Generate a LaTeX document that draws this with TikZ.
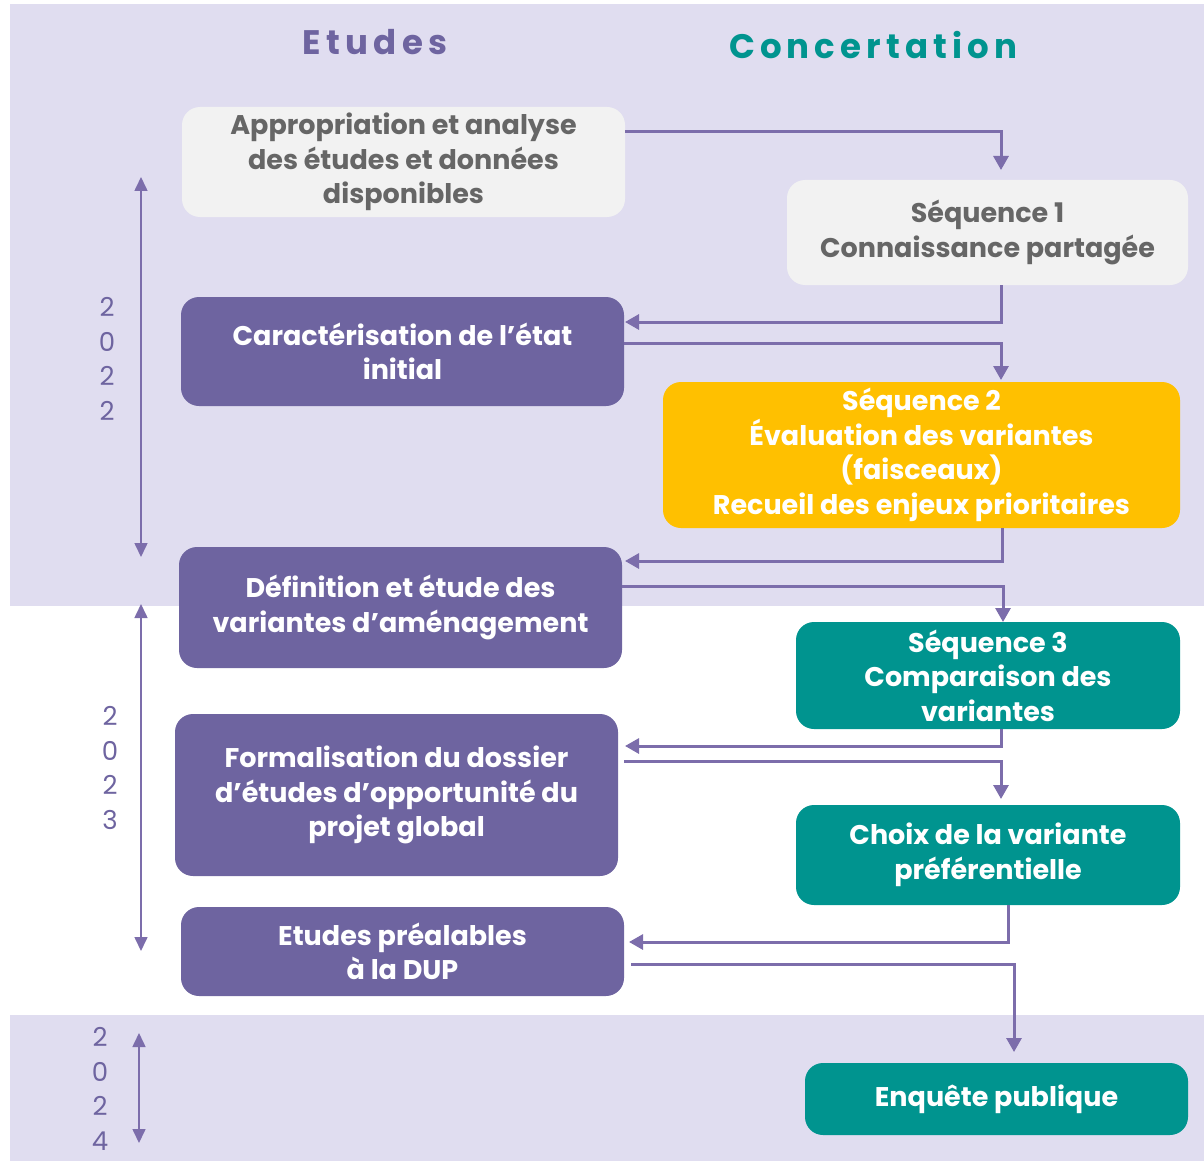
\documentclass[tikz,border=0pt]{standalone}
\usepackage{fontspec}
\setmainfont{Poppins}
\usepackage{tikz}
\usetikzlibrary{arrows.meta, calc}

\definecolor{bgLav}{HTML}{E0DDF0}
\definecolor{etuPurple}{HTML}{6E64A0}
\definecolor{arrPurple}{HTML}{7C6DAB}
\definecolor{boxGray}{HTML}{F2F2F2}
\definecolor{txtGray}{HTML}{666666}
\definecolor{seqYellow}{HTML}{FFC000}
\definecolor{conTeal}{HTML}{00948F}

\begin{document}
\begin{tikzpicture}[x=1pt, y=-1pt]

    % Frame
    \useasboundingbox (0,0) rectangle (1204,1161);

    % Boxes
    \tikzset{box/.style={rounded corners = 18pt, align = center, inner sep = 4pt,
        font = \fontsize{27}{34.5}\selectfont\bfseries}}
    \tikzset{grayB/.style={box, fill = boxGray, text = txtGray}}
    \tikzset{etuB/.style={box, fill = etuPurple, text = white}}
    \tikzset{seqB/.style={box, fill = seqYellow, text = white}}
    \tikzset{conB/.style={box, fill = conTeal, text = white}}

    % Connectors
    \tikzset{arr/.style={draw = arrPurple, line width = 3pt, -{Triangle[length=14pt, width=15pt]}}}
    \tikzset{yarr/.style={draw = arrPurple, line width = 1.6pt, {Triangle[length=14pt, width=13pt]}-{Triangle[length=14pt, width=13pt]}}}
    \tikzset{year/.style={align = center, text = etuPurple, font = \fontsize{26}{34.5}\selectfont}}

    % Background bands
    \fill[bgLav] (10,4) rectangle (1204,606);
    \fill[bgLav] (10,1015) rectangle (1204,1161);

    % Headings
    \node (hE) at (375,42) {\fontsize{34}{40}\selectfont\bfseries\addfontfeatures{LetterSpace=16}\color{etuPurple}Etudes};
    \node (hC) at (873,45) {\fontsize{34}{40}\selectfont\bfseries\addfontfeatures{LetterSpace=15}\color{conTeal}Concertation};

    % Etudes nodes
    \node (A) [grayB, minimum width = 443pt, minimum height = 110pt] at (403.5,162) {Appropriation et analyse\\des études et données\\disponibles};
    \node (B) [etuB, minimum width = 443pt, minimum height = 109pt] at (402.5,351.5) {Caractérisation de l’état\\initial};
    \node (C) [etuB, minimum width = 443pt, minimum height = 121pt] at (400.5,607.5) {Définition et étude des\\variantes d’aménagement};
    \node (D) [etuB, minimum width = 443pt, minimum height = 162pt] at (396.5,795) {Formalisation du dossier\\d’études d’opportunité du\\projet global};
    \node (E) [etuB, minimum width = 443pt, minimum height = 89pt] at (402.5,951.5) {Etudes préalables\\à la DUP};

    % Concertation nodes
    \node (S1) [grayB, minimum width = 401pt, minimum height = 105pt] at (987.5,232.5) {Séquence 1\\Connaissance partagée};
    \node (S2) [seqB, minimum width = 517pt, minimum height = 146pt] at (921.5,455) {Séquence 2\\Évaluation des variantes\\(faisceaux)\\Recueil des enjeux prioritaires};
    \node (S3) [conB, minimum width = 384pt, minimum height = 107pt] at (988,675.5) {Séquence 3\\Comparaison des\\variantes};
    \node (S4) [conB, minimum width = 384pt, minimum height = 100pt] at (988,855) {Choix de la variante\\préférentielle};
    \node (S5) [conB, minimum width = 383pt, minimum height = 72pt] at (996.5,1099) {Enquête publique};

    % Arrow tips
    \coordinate (inS1) at (1001,170);
    \coordinate (inB) at (625,322);
    \coordinate (inS2) at (1001,380);
    \coordinate (inC) at (625,561);
    \coordinate (inS3) at (1003,622);
    \coordinate (inD) at (625,746);
    \coordinate (inS4) at (1001,799);
    \coordinate (inE) at (629,942);
    \coordinate (inS5) at (1014,1052);

    % Flow
    \draw[arr] ([yshift=-25pt]A.north east) -| (inS1);
    \draw[arr] ([xshift=13.5pt]S1.south) |- (inB);
    \draw[arr] ([yshift=8pt]B.east) -| (inS2);
    \draw[arr] ([xshift=80.5pt]S2.south) |- (inC);
    \draw[arr] ([yshift=21.5pt]C.east) -| (inS3);
    \draw[arr] ([xshift=13pt]S3.south) |- (inD);
    \draw[arr] ([yshift=-48pt, xshift=6pt]D.north east) -| (inS4);
    \draw[arr] ([xshift=20pt]S4.south) |- (inE);
    \draw[arr] ([yshift=-58pt, xshift=7pt]E.north east) -| (inS5);

    % Years
    \coordinate (t22) at (141,177);
    \coordinate (b22) at (141,557);
    \coordinate (t23) at (141,604);
    \coordinate (b23) at (141,951);
    \coordinate (t24) at (139,1033);
    \coordinate (b24) at (139,1143);
    \draw[yarr] (t22) -- (b22);
    \draw[yarr] (t23) -- (b23);
    \draw[yarr] (t24) -- (b24);
    \node (y22) [year] at (107,359) {2\\0\\2\\2};
    \node (y23) [year] at (110,768) {2\\0\\2\\3};
    \node (y24) [year] at (100,1089) {2\\0\\2\\4};

\end{tikzpicture}
\end{document}
